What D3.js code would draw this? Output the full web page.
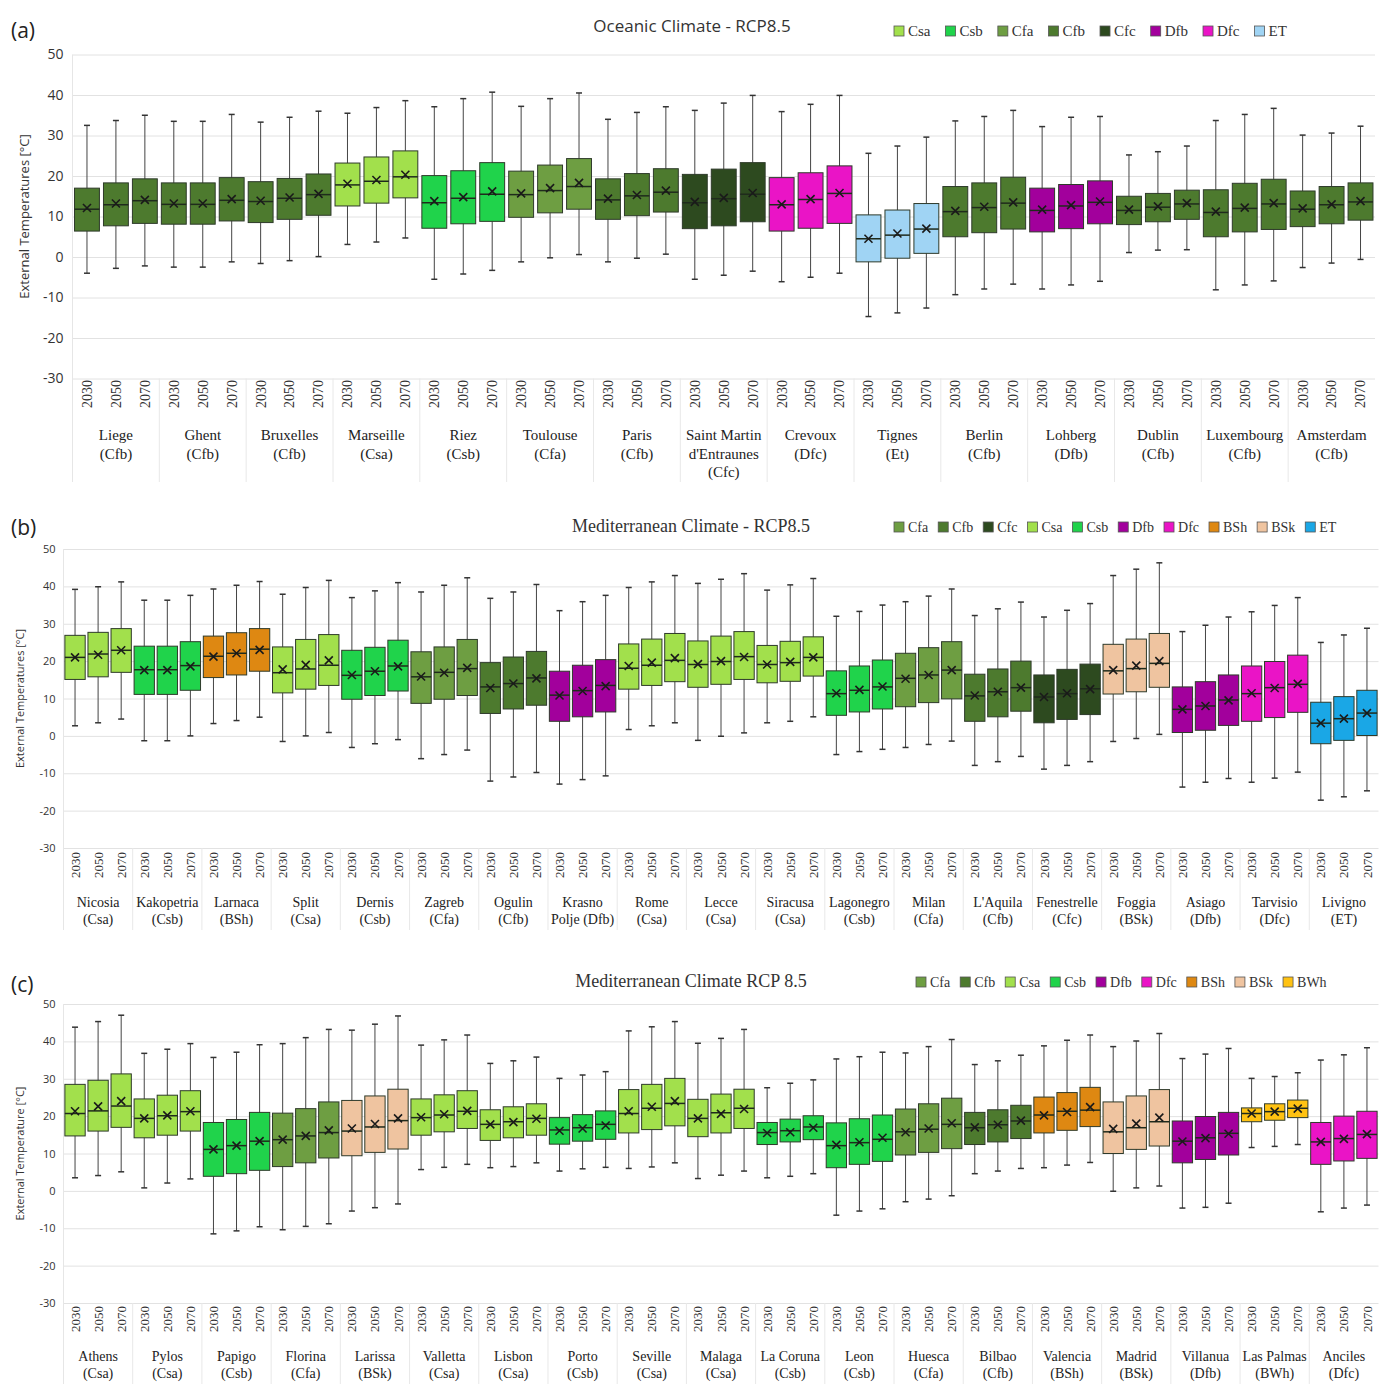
<!DOCTYPE html>
<html lang="en">
<head>
<meta charset="UTF-8" />
<title>External temperatures RCP8.5</title>
<script src="https://cdn.jsdelivr.net/npm/d3@7"></script>
<style>
  body { margin: 0; background: #fff; }
  .serif { font-family: "Liberation Serif", "DejaVu Serif", serif; }
  .sans { font-family: "Open Sans", "Liberation Sans", sans-serif; }
</style>
</head>
<body>
<svg id="chart" width="1386" height="1384"></svg>
<script>
// ---- data -------------------------------------------------------------
const years = ["2030", "2050", "2070"];

// panel (a) Oceanic
const aCities = ["Liege|(Cfb)", "Ghent|(Cfb)", "Bruxelles|(Cfb)", "Marseille|(Csa)", "Riez|(Csb)",
  "Toulouse|(Cfa)", "Paris|(Cfb)", "Saint Martin|d'Entraunes|(Cfc)", "Crevoux|(Dfc)", "Tignes|(Et)",
  "Berlin|(Cfb)", "Lohberg|(Dfb)", "Dublin|(Cfb)", "Luxembourg|(Cfb)", "Amsterdam|(Cfb)"];
const aZones = ["Cfb", "Cfb", "Cfb", "Csa", "Csb", "Cfa", "Cfb", "Cfc", "Dfc", "ET", "Cfb", "Dfb", "Cfb", "Cfb", "Cfb"];
const aMax = [32.5,33.7,35, 33.5,33.5,35.2, 33.3,34.5,36, 35.5,36.9,38.6, 37.1,39.1,40.7, 37.2,39.1,40.5, 34,35.7,37.1, 36.2,38,39.9, 35.9,37.7,39.9, 25.6,27.4,29.6, 33.6,34.7,36.2, 32.2,34.5,34.7, 25.2,26,27.4, 33.7,35.2,36.7, 30.1,30.6,32.3];
const aQ3 = [17,18.3,19.3, 18.3,18.3,19.6, 18.6,19.4,20.5, 23.2,24.7,26.2, 20.1,21.3,23.3, 21.2,22.7,24.3, 19.3,20.6,21.8, 20.4,21.7,23.3, 19.6,20.8,22.5, 10.4,11.6,13.2, 17.4,18.3,19.7, 17,17.9,18.8, 15,15.7,16.5, 16.6,18.2,19.2, 16.3,17.4,18.3];
const aMed = [11.8,12.9,13.9, 13,13,14, 13.7,14.5,15.4, 17.8,18.7,19.8, 13.4,14.5,15.5, 15.4,16.4,17.4, 14.1,15.1,16, 13.4,14.4,15.5, 12.9,14.2,15.7, 4.5,5.4,6.9, 11.2,12.2,13.3, 11.5,12.6,13.5, 11.5,12.3,13.1, 11,12,13.1, 11.8,12.9,13.6];
const aQ1 = [6.4,7.7,8.3, 8.1,8.1,8.9, 8.5,9.3,10.3, 12.6,13.3,14.6, 7.1,8.2,8.8, 9.8,10.9,11.8, 9.3,10.2,11.1, 7,7.7,8.7, 6.4,7.1,8.3, -1.2,-0.3,0.9, 5,6,6.9, 6.2,7,8.2, 8,8.7,9.3, 5,6.2,6.8, 7.5,8.2,9.1];
const aMin = [-4,-2.8,-2.2, -2.5,-2.5,-1.2, -1.6,-0.9,0.1, 3.1,3.7,4.7, -5.5,-4.2,-3.3, -1.2,-0.2,0.6, -1.2,-0.3,0.7, -5.5,-4.5,-3.5, -6.1,-5,-4, -14.7,-13.8,-12.6, -9.3,-7.9,-6.7, -7.9,-6.9,-6, 1.1,1.7,1.8, -8.1,-6.9,-5.9, -2.6,-1.5,-0.6];
const aMean = [12.1,13.2,14.1, 13.2,13.2,14.3, 13.9,14.7,15.6, 18.1,19,20.3, 13.8,14.8,16.2, 15.7,17,18.3, 14.4,15.3,16.4, 13.6,14.6,15.8, 13,14.3,15.8, 4.5,5.8,7, 11.4,12.4,13.5, 11.7,12.8,13.7, 11.7,12.5,13.3, 11.2,12.2,13.3, 12,13,13.8];

// panel (b) Mediterranean (Italy, Cyprus, Croatia)
const bCities = ["Nicosia|(Csa)", "Kakopetria|(Csb)", "Larnaca|(BSh)", "Split|(Csa)", "Dernis|(Csb)",
  "Zagreb|(Cfa)", "Ogulin|(Cfb)", "Krasno|Polje (Dfb)", "Rome|(Csa)", "Lecce|(Csa)", "Siracusa|(Csa)",
  "Lagonegro|(Csb)", "Milan|(Cfa)", "L'Aquila|(Cfb)", "Fenestrelle|(Cfc)", "Foggia|(BSk)", "Asiago|(Dfb)",
  "Tarvisio|(Dfc)", "Livigno|(ET)"];
const bZones = ["Csa", "Csb", "BSh", "Csa", "Csb", "Cfa", "Cfb", "Dfb", "Csa", "Csa", "Csa", "Csb", "Cfa", "Cfb", "Cfc", "BSk", "Dfb", "Dfc", "ET"];
const bMax = [39.2,39.9,41.2, 36.3,36.3,37.6, 39.3,40.3,41.3, 37.9,39.7,41.6, 37,38.8,41, 38.5,40.3,42.3, 36.8,38.5,40.5, 33.5,35.9,37.6, 39.7,41.2,42.9, 40.8,41.9,43.4, 39,40.4,42.1, 32,33.3,35, 35.9,37.4,39.3, 32.2,34,35.8, 31.8,33.6,35.4, 42.9,44.6,46.3, 27.9,29.6,31.8, 33.2,34.9,37, 25,27,28.8];
const bQ3 = [26.9,27.7,28.7, 24,24,25.2, 26.7,27.6,28.7, 23.8,25.8,27.1, 22.9,23.7,25.6, 22.5,23.8,25.8, 19.6,21.1,22.6, 17.3,18.9,20.4, 24.6,25.9,27.4, 25.4,26.7,27.9, 24.2,25.3,26.5, 17.4,18.7,20.3, 22.1,23.6,25.2, 16.5,17.9,20, 16.3,17.8,19.2, 24.5,25.9,27.4, 13.1,14.5,16.3, 18.7,19.9,21.6, 9,10.5,12.2];
const bMed = [21,21.9,22.9, 17.7,17.7,18.8, 21.3,22.1,23.2, 16.9,17.9,18.9, 16.2,17.3,18.7, 15.8,17,18, 13.1,14,15.5, 10.9,12.1,13.5, 18.1,18.9,20.2, 19.1,19.9,21.2, 19.1,19.6,21, 11.3,12.2,13.1, 15.4,16.3,17.6, 10.7,11.8,12.9, 10.4,11.3,12.6, 17.4,18,19.4, 7.1,8,9.6, 11.3,12.9,13.8, 3.4,4.6,6.1];
const bQ1 = [15.1,15.8,17, 11.1,11.1,12.2, 15.6,16.3,17.3, 11.5,12.5,13.5, 9.8,10.8,12, 8.7,9.8,10.8, 6,7.2,8.2, 3.9,5.1,6.4, 12.5,13.5,14.5, 13,13.8,15.1, 14.2,14.6,16, 5.5,6.4,7.2, 7.8,8.9,9.9, 3.9,5.1,6.6, 3.5,4.4,5.7, 11.2,11.8,13, 0.9,1.5,2.8, 3.9,4.9,6.3, -2.1,-1.2,0.1];
const bMin = [2.7,3.5,4.5, -1.3,-1.3,0, 3.3,4.1,5, -1.5,0,0.9, -3.1,-2.1,-1, -6.1,-5,-3.8, -12.1,-11,-9.8, -12.9,-11.7,-10.7, 1.7,2.7,3.5, -1.2,-0.1,0.8, 3.5,3.9,5.1, -5,-4.2,-3.6, -3.1,-2.3,-1.4, -7.9,-6.9,-5.5, -8.9,-7.9,-6.9, -1.5,-0.7,0.4, -13.7,-12.4,-11.4, -12.4,-11.3,-9.7, -17.2,-16.3,-14.7];
const bMean = [21,21.7,22.9, 17.6,17.6,18.6, 21.2,22.1,23, 17.8,19,20.2, 16.3,17.3,18.6, 15.9,16.9,18.2, 12.8,14,15.4, 10.8,12,13.3, 18.7,19.6,20.8, 19.2,20,21.1, 19.1,19.8,21, 11.4,12.3,13.2, 15.3,16.3,17.6, 10.8,11.8,12.9, 10.4,11.4,12.5, 17.6,18.8,20, 7.1,8,9.5, 11.4,12.8,13.9, 3.4,4.6,6.1];

// panel (c) Mediterranean (Greece, Malta, Iberia)
const cCities = ["Athens|(Csa)", "Pylos|(Csa)", "Papigo|(Csb)", "Florina|(Cfa)", "Larissa|(BSk)",
  "Valletta|(Csa)", "Lisbon|(Csa)", "Porto|(Csb)", "Seville|(Csa)", "Malaga|(Csa)", "La Coruna|(Csb)",
  "Leon|(Csb)", "Huesca|(Cfa)", "Bilbao|(Cfb)", "Valencia|(BSh)", "Madrid|(BSk)", "Villanua|(Dfb)",
  "Las Palmas|(BWh)", "Anciles|(Dfc)"];
const cZones = ["Csa", "Csa", "Csb", "Cfa", "BSk", "Csa", "Csa", "Csb", "Csa", "Csa", "Csb", "Csb", "Cfa", "Cfb", "BSh", "BSk", "Dfb", "BWh", "Dfc"];
const cMax = [43.8,45.3,47, 36.8,37.9,39.4, 35.7,37.1,39.1, 39.4,41,43.2, 43,44.6,46.8, 39,40.4,41.7, 34.1,34.8,35.8, 30.1,31,31.9, 42.8,43.9,45.3, 39.5,40.8,43.2, 27.6,28.8,29.7, 35.3,35.9,37.1, 36.9,38.6,40.5, 33.8,34.8,36.3, 38.8,40.3,41.7, 38.6,40.1,42.1, 35.4,36.6,38.1, 30.1,30.6,31.6, 35,36.4,38.3];
const cQ3 = [28.5,29.6,31.3, 24.6,25.6,26.8, 18.3,19.1,21, 20.8,22,23.8, 24.2,25.4,27.2, 24.6,25.7,26.8, 21.7,22.5,23.3, 19.6,20.4,21.4, 27.1,28.5,30.1, 24.5,25.9,27.2, 18.3,19.2,20.1, 18.2,19.3,20.3, 21.9,23.3,24.8, 21,21.7,22.9, 25.1,26.3,27.7, 23.8,25.4,27.1, 18.7,19.9,21, 22.2,23.3,24.3, 18.3,20,21.3];
const cMed = [20.7,21.4,22.7, 19.4,20.1,21.2, 11.1,12.1,13.3, 13.7,14.7,15.6, 16,17.1,18.8, 19.6,20.3,21.3, 17.8,18.5,19.4, 16.3,16.9,17.8, 20.7,22.1,23.4, 19.4,20.9,22.1, 15.6,16.1,17.1, 12.1,12.9,13.8, 15.8,16.5,17.8, 16.9,17.7,18.7, 20.3,21.3,21.6, 15.8,16.9,18.5, 13.3,14.2,15.4, 20.7,21.2,22.1, 13.1,14,15.1];
const cQ1 = [14.7,16,17, 14.2,14.9,16, 3.9,4.6,5.5, 6.5,7.5,8.8, 9.4,10.3,11.2, 14.9,15.8,16.7, 13.5,14.2,14.9, 12.5,13.3,13.8, 15.5,16.4,17.4, 14.5,15.5,16.7, 12.4,13.1,13.7, 6.2,7.1,7.9, 9.6,10.3,11.3, 12.4,13.1,14, 15.5,16.2,17.2, 10,11.1,12, 7.5,8.4,9.6, 18.5,18.9,19.6, 7.1,8,8.7];
const cMin = [3.5,4.1,5.1, 0.8,2.1,3.2, -11.5,-10.7,-9.6, -10.4,-9.5,-8.8, -5.4,-4.5,-3.5, 5.7,6.3,7.1, 6.2,6.5,7.5, 5.3,5.9,6.3, 6,6.4,7.5, 3.3,4.2,5.3, 3.5,3.9,4.6, -6.5,-5.4,-4.8, -2.9,-2.2,-1.3, 4.6,5.3,6, 6.2,6.9,7.6, -0.1,0.8,1.3, -4.6,-4.4,-3.3, 11.6,11.9,12.4, -5.6,-4.6,-3.8];
const cMean = [21.3,22.6,24, 19.4,20.2,21.3, 11.1,12.1,13.3, 13.7,14.7,16.2, 16.7,17.9,19.4, 19.7,20.5,21.4, 17.8,18.4,19.3, 16.1,16.7,17.5, 21.3,22.5,24, 19.4,20.6,21.9, 15.5,15.7,16.9, 12.3,13,14.2, 15.7,16.7,18.1, 17,17.7,18.8, 20.2,21.1,22.4, 16.6,18,19.6, 13.2,14.1,15.3, 20.7,21.2,22, 13.1,13.9,15.2];

const yTicks = [-30, -20, -10, 0, 10, 20, 30, 40, 50];

const zoneColors = {
  Csa: "#a2e04c", Csb: "#20d34b", Cfa: "#6e9e42", Cfb: "#4d7a2e", Cfc: "#2d4a1f",
  Dfb: "#a2009c", Dfc: "#ea14c6", ET: "#a0d4f4", BSh: "#de8812", BSk: "#efc4a0", BWh: "#ffc212"
};

const svg = d3.select("#chart");

function drawPanel(p) {
  const g = svg.append("g");
  const n = p.max.length;
  const colorOf = (z) => (p.colorOverride && p.colorOverride[z]) || zoneColors[z];

  const x = d3.scaleBand().domain(d3.range(n)).range([p.x0, p.x1])
    .paddingInner(p.pad).paddingOuter(p.pad / 2);
  const y = d3.scaleLinear().domain([-30, 50]).range([p.yB, p.yT]);
  const step = x.step();
  const bw = x.bandwidth();

  // grid + tick labels
  const ax = g.append("g")
    .attr("transform", `translate(${p.x0},0)`)
    .call(d3.axisLeft(y).tickValues(yTicks).tickFormat((d) => String(d))
      .tickSize(-(p.x1 - p.x0)).tickPadding(p.tickPad));
  ax.select(".domain").remove();
  ax.selectAll(".tick line").attr("stroke", "#e2e2e2");
  ax.selectAll(".tick text")
    .attr("class", "sans")
    .attr("font-size", p.tickFont)
    .attr("fill", "#333");
  g.append("line")
    .attr("x1", p.x0).attr("x2", p.x0)
    .attr("y1", p.yT).attr("y2", p.labelBottom)
    .attr("stroke", "#e6e6e6");

  // separators in the category area
  for (let k = 1; k < n / 3; k++) {
    const sx = p.x0 + 3 * k * step;
    g.append("line")
      .attr("x1", sx).attr("x2", sx)
      .attr("y1", p.yB).attr("y2", p.labelBottom)
      .attr("stroke", "#e8e8e8");
  }

  // boxes
  const items = d3.range(n).map((i) => ({
    i, zone: p.zones[Math.floor(i / 3)],
    min: p.min[i], q1: p.q1[i], med: p.med[i], q3: p.q3[i], max: p.max[i], mean: p.mean[i]
  }));
  const box = g.selectAll(".bx").data(items).enter().append("g").attr("class", "bx");
  const cx = (d) => x(d.i) + bw / 2;

  box.append("line")
    .attr("x1", cx).attr("x2", cx)
    .attr("y1", (d) => y(d.max)).attr("y2", (d) => y(d.min))
    .attr("stroke", "#444").attr("stroke-width", 1);
  ["max", "min"].forEach((k) => {
    box.append("line")
      .attr("x1", (d) => cx(d) - 3).attr("x2", (d) => cx(d) + 3)
      .attr("y1", (d) => y(d[k])).attr("y2", (d) => y(d[k]))
      .attr("stroke", "#333").attr("stroke-width", 1.5);
  });
  box.append("rect")
    .attr("x", (d) => x(d.i))
    .attr("width", bw)
    .attr("y", (d) => y(d.q3))
    .attr("height", (d) => y(d.q1) - y(d.q3))
    .attr("fill", (d) => colorOf(d.zone))
    .attr("stroke", "#2e3a2a").attr("stroke-width", 1);
  box.append("line")
    .attr("x1", (d) => x(d.i)).attr("x2", (d) => x(d.i) + bw)
    .attr("y1", (d) => y(d.med)).attr("y2", (d) => y(d.med))
    .attr("stroke", "#1f2b1c").attr("stroke-width", 1.5);
  const m = p.markSize;
  box.append("path")
    .attr("d", (d) => {
      const px = cx(d), py = y(d.mean);
      return `M${px - m},${py - m}L${px + m},${py + m}M${px - m},${py + m}L${px + m},${py - m}`;
    })
    .attr("stroke", "#1a1a1a").attr("stroke-width", 1.6).attr("fill", "none");

  // year labels
  g.selectAll(".yr").data(items).enter().append("text")
    .attr("class", "serif")
    .attr("transform", (d) => `translate(${cx(d) + p.yearFont * 0.35},${p.yearTop}) rotate(-90)`)
    .attr("text-anchor", "end")
    .attr("font-size", p.yearFont)
    .attr("fill", "#333")
    .text((d) => years[d.i % 3]);

  // city labels
  p.cities.forEach((c, k) => {
    const mid = x(3 * k + 1) + bw / 2;
    const t = g.append("text")
      .attr("class", "serif")
      .attr("text-anchor", "middle")
      .attr("font-size", p.cityFont)
      .attr("fill", "#222");
    c.split("|").forEach((line, j) => {
      t.append("tspan").attr("x", mid).attr("y", p.cityY + j * p.cityLine).text(line);
    });
  });

  // y label
  g.append("text")
    .attr("class", "sans")
    .attr("transform", `translate(${p.yLabelX},${(p.yT + p.yB) / 2}) rotate(-90)`)
    .attr("text-anchor", "middle")
    .attr("font-size", p.yLabelFont)
    .attr("fill", "#333")
    .text(p.yLabel);

  // panel letter + title
  g.append("text").attr("class", "sans")
    .attr("x", 11).attr("y", p.letterY)
    .attr("font-size", 21).attr("fill", "#222")
    .text(p.letter);
  g.append("text").attr("class", p.titleClass)
    .attr("x", p.titleX).attr("y", p.titleY)
    .attr("text-anchor", "middle")
    .attr("font-size", p.titleFont).attr("fill", "#333")
    .text(p.title);

  // legend
  let lx = p.legendX;
  p.legend.forEach((z) => {
    g.append("rect")
      .attr("x", lx).attr("y", p.legendY - 10)
      .attr("width", 10).attr("height", 10)
      .attr("fill", colorOf(z)).attr("stroke", "#555").attr("stroke-width", 0.8);
    const t = g.append("text").attr("class", "serif")
      .attr("x", lx + 14).attr("y", p.legendY)
      .attr("font-size", p.legendFont).attr("fill", "#333")
      .text(z);
    lx += 14 + t.node().getComputedTextLength() + p.legendGap;
  });
}

drawPanel({
  letter: "(a)", letterY: 38, title: "Oceanic Climate - RCP8.5", titleClass: "sans",
  titleX: 692, titleY: 32, titleFont: 17,
  legend: ["Csa", "Csb", "Cfa", "Cfb", "Cfc", "Dfb", "Dfc", "ET"], legendX: 894, legendY: 36,
  legendFont: 15, legendGap: 15,
  cities: aCities, zones: aZones, min: aMin, q1: aQ1, med: aMed, q3: aQ3, max: aMax, mean: aMean,
  x0: 72.5, x1: 1375, yT: 54.5, yB: 378.5, pad: 0.14, tickPad: 9, tickFont: 14,
  labelBottom: 482, yearTop: 380, yearFont: 14, cityY: 440, cityLine: 18.5, cityFont: 15,
  yLabel: "External Temperatures [°C]", yLabelX: 29, yLabelFont: 13, markSize: 4
});

drawPanel({
  letter: "(b)", letterY: 535, title: "Mediterranean Climate - RCP8.5", titleClass: "serif",
  titleX: 691, titleY: 532, titleFont: 18,
  legend: ["Cfa", "Cfb", "Cfc", "Csa", "Csb", "Dfb", "Dfc", "BSh", "BSk", "ET"], legendX: 894, legendY: 532,
  legendFont: 14, legendGap: 10, colorOverride: { ET: "#1aa7e6" },
  cities: bCities, zones: bZones, min: bMin, q1: bQ1, med: bMed, q3: bQ3, max: bMax, mean: bMean,
  x0: 63.5, x1: 1378.5, yT: 549, yB: 848, pad: 0.12, tickPad: 8, tickFont: 11,
  labelBottom: 930, yearTop: 852, yearFont: 13, cityY: 907, cityLine: 17, cityFont: 14,
  yLabel: "External Temperatures [°C]", yLabelX: 24, yLabelFont: 11, markSize: 4
});

drawPanel({
  letter: "(c)", letterY: 992, title: "Mediterranean Climate RCP 8.5", titleClass: "serif",
  titleX: 691, titleY: 987, titleFont: 18,
  legend: ["Cfa", "Cfb", "Csa", "Csb", "Dfb", "Dfc", "BSh", "BSk", "BWh"], legendX: 916, legendY: 987,
  legendFont: 14, legendGap: 10,
  cities: cCities, zones: cZones, min: cMin, q1: cQ1, med: cMed, q3: cQ3, max: cMax, mean: cMean,
  x0: 63.5, x1: 1378.5, yT: 1004, yB: 1303, pad: 0.12, tickPad: 8, tickFont: 11,
  labelBottom: 1384, yearTop: 1306, yearFont: 13, cityY: 1361, cityLine: 17, cityFont: 14,
  yLabel: "External Temperature [°C]", yLabelX: 24, yLabelFont: 11, markSize: 4
});
</script>
</body>
</html>
